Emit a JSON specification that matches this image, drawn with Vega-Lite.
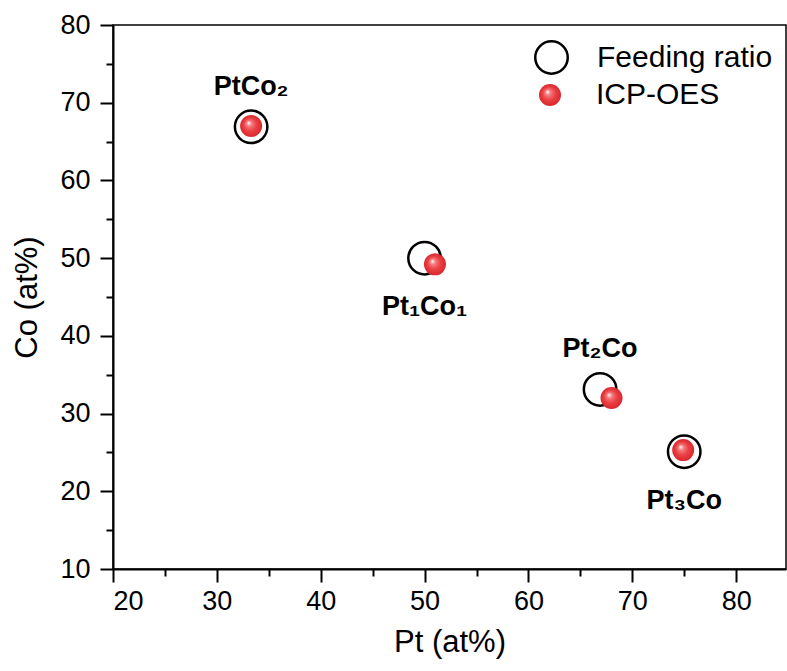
{
  "$schema": "https://vega.github.io/schema/vega-lite/v6.json",
  "width": 673,
  "height": 544,
  "autosize": "none",
  "padding": {"left": 113, "top": 25, "right": 1, "bottom": 102},
  "background": "white",
  "data": {
    "values": [
      {"series": "Feeding ratio", "pt": 33.3, "co": 66.9, "label": "PtCo₂"},
      {"series": "Feeding ratio", "pt": 50.0, "co": 50.0, "label": "Pt₁Co₁"},
      {"series": "Feeding ratio", "pt": 66.9, "co": 33.1, "label": "Pt₂Co"},
      {"series": "Feeding ratio", "pt": 75.0, "co": 25.1, "label": "Pt₃Co"},
      {"series": "ICP-OES", "pt": 33.3, "co": 67.0, "label": ""},
      {"series": "ICP-OES", "pt": 51.0, "co": 49.2, "label": ""},
      {"series": "ICP-OES", "pt": 68.0, "co": 32.0, "label": ""},
      {"series": "ICP-OES", "pt": 74.9, "co": 25.3, "label": ""}
    ]
  },
  "config": {
    "font": "Liberation Sans",
    "view": {"stroke": "black", "strokeWidth": 1.5},
    "axis": {
      "grid": false,
      "domainColor": "black",
      "domainWidth": 2,
      "tickColor": "black",
      "tickWidth": 2,
      "labelColor": "black",
      "labelFont": "Liberation Sans",
      "labelFontSize": 27,
      "titleFont": "Liberation Sans",
      "titleFontSize": 31,
      "titleFontWeight": "normal",
      "titleColor": "black"
    },
    "legend": {
      "labelFont": "Liberation Sans",
      "labelFontSize": 30,
      "labelColor": "black",
      "labelLimit": 400,
      "padding": 0
    }
  },
  "resolve": {"axis": {"x": "independent", "y": "independent"}, "legend": {"stroke": "independent", "shape": "independent"}},
  "layer": [
    {
      "transform": [{"filter": "datum.series === 'Feeding ratio'"}],
      "mark": {"type": "point", "shape": "circle", "filled": false, "size": 1056, "strokeWidth": 2.5, "opacity": 1},
      "encoding": {
        "x": {
          "field": "pt", "type": "quantitative",
          "scale": {"domain": [20, 84.8], "nice": false, "zero": false},
          "axis": {"orient": "bottom", "title": "Pt (at%)", "values": [20, 30, 40, 50, 60, 70, 80], "tickSize": 13, "labelPadding": 6, "titlePadding": 13}
        },
        "y": {
          "field": "co", "type": "quantitative",
          "scale": {"domain": [10, 80], "nice": false, "zero": false},
          "axis": {"orient": "left", "title": "Co (at%)", "values": [10, 20, 30, 40, 50, 60, 70, 80], "tickSize": 13, "labelPadding": 10, "titlePadding": 16}
        },
        "stroke": {
          "field": "series", "type": "nominal",
          "scale": {"domain": ["Feeding ratio"], "range": ["black"]},
          "legend": {
            "title": null,
            "orient": "none",
            "legendX": 421,
            "legendY": 15,
            "symbolType": "circle",
            "symbolSize": 1056,
            "symbolStrokeWidth": 2.5,
            "symbolFillColor": "transparent",
            "labelOffset": 28
          }
        }
      }
    },
    {
      "transform": [{"filter": "datum.series === 'ICP-OES'"}],
      "mark": {
        "type": "point", "filled": true, "size": 484, "opacity": 1, "strokeWidth": 0,
        "fill": {"gradient": "radial", "x1": 0.38, "y1": 0.35, "r1": 0, "x2": 0.5, "y2": 0.5, "r2": 0.5,
          "stops": [{"offset": 0, "color": "#ffffff"}, {"offset": 0.25, "color": "#f47a7c"}, {"offset": 0.6, "color": "#ea3f43"}, {"offset": 1, "color": "#d8282d"}]}
      },
      "encoding": {
        "x": {
          "field": "pt", "type": "quantitative",
          "axis": {"orient": "bottom", "title": null, "values": [25, 35, 45, 55, 65, 75], "tickSize": 7, "labels": false, "domain": false}
        },
        "y": {
          "field": "co", "type": "quantitative",
          "axis": {"orient": "left", "title": null, "values": [15, 25, 35, 45, 55, 65, 75], "tickSize": 7, "labels": false, "domain": false}
        },
        "shape": {
          "field": "series", "type": "nominal",
          "scale": {"domain": ["ICP-OES"], "range": ["circle"]},
          "legend": {
            "title": null,
            "orient": "none",
            "legendX": 422,
            "legendY": 55,
            "symbolSize": 484,
            "symbolStrokeWidth": 0,
            "symbolFillColor": "#e8383d",
            "symbolStrokeColor": "#e8383d",
            "symbolOpacity": 1,
            "labelOffset": 31
          }
        }
      }
    },
    {
      "transform": [{"filter": "datum.label === 'PtCo₂' || datum.label === 'Pt₂Co'"}],
      "mark": {"type": "text", "dy": -40, "fontSize": 27, "fontWeight": "bold", "font": "Liberation Sans", "color": "black"},
      "encoding": {
        "x": {"field": "pt", "type": "quantitative", "axis": null},
        "y": {"field": "co", "type": "quantitative", "axis": null},
        "text": {"field": "label"}
      }
    },
    {
      "transform": [{"filter": "datum.label === 'Pt₁Co₁' || datum.label === 'Pt₃Co'"}],
      "mark": {"type": "text", "dy": 49, "fontSize": 27, "fontWeight": "bold", "font": "Liberation Sans", "color": "black"},
      "encoding": {
        "x": {"field": "pt", "type": "quantitative", "axis": null},
        "y": {"field": "co", "type": "quantitative", "axis": null},
        "text": {"field": "label"}
      }
    }
  ]
}
